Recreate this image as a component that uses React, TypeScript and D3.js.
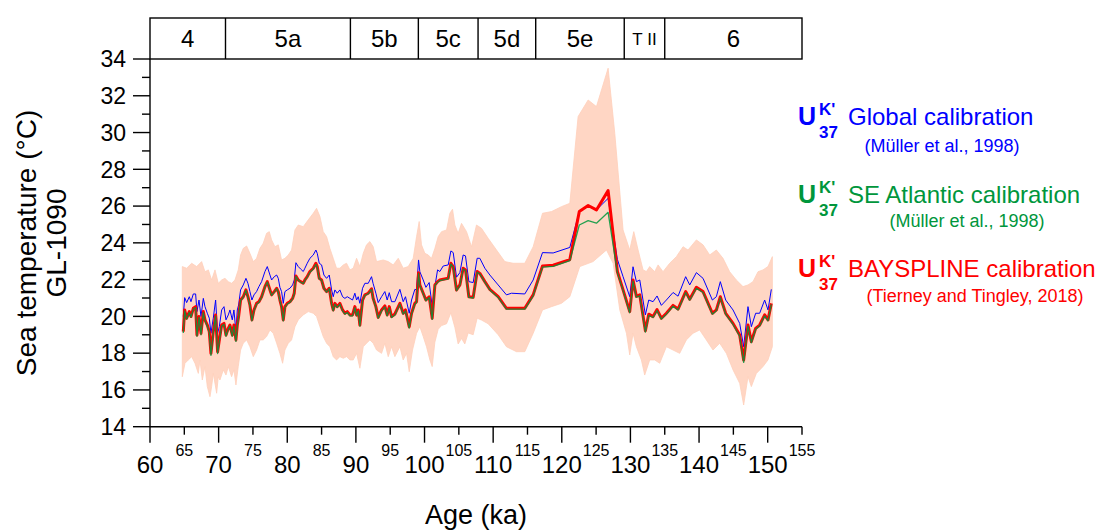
import React from 'react';
import * as d3 from 'd3';

// ages (ka) of the alkenone samples
const ages = [
  64.85, 65.05, 65.34, 65.73, 65.97, 66.31, 66.65, 66.84, 67.14, 67.43,
  67.77, 68.01, 68.35, 68.64, 68.88, 69.22, 69.56, 69.85, 70.10, 70.44,
  70.78, 71.07, 71.41, 71.65, 71.99, 72.23, 72.52, 72.72, 72.91, 73.20,
  73.59, 73.98, 74.27, 74.56, 74.85, 75.15, 75.53, 75.87, 76.26, 76.75,
  77.09, 77.48, 77.72, 78.11, 78.45, 78.69, 78.93, 79.17, 79.42, 79.66,
  80.00, 80.39, 80.78, 81.02, 81.26, 81.60, 81.94, 82.33, 82.57, 82.91,
  83.30, 83.79, 84.17, 84.37, 84.66, 85.00, 85.34, 85.73, 86.12, 86.46,
  86.70, 86.94, 87.28, 87.67, 88.06, 88.40, 88.74, 89.13, 89.51, 89.85,
  90.10, 90.34, 90.58, 90.97, 91.31, 91.80, 92.28, 92.50, 92.91, 93.25,
  93.74, 94.22, 94.56, 94.86, 95.20, 95.68, 96.41, 96.89, 97.23, 97.77,
  98.11, 98.59, 98.84, 99.13, 99.32, 99.81, 100.20, 100.68, 101.12, 101.51,
  101.90, 102.23, 102.72, 103.45, 103.84, 104.18, 104.66, 105.15, 105.63, 105.97,
  106.46, 107.09, 107.67, 108.06, 108.79, 109.52, 110.73, 111.94, 112.67, 114.61,
  115.83, 117.19, 118.74, 121.17, 122.55, 123.84, 125.05, 126.75, 128.10, 128.93,
  129.90, 130.38, 130.87, 131.36, 132.18, 132.67, 133.30, 133.88, 134.51, 135.24,
  136.21, 136.94, 138.05, 138.64, 139.61, 140.58, 141.94, 142.52, 143.10, 143.88,
  144.95, 145.92, 146.50, 147.13, 147.62, 148.25, 148.83, 149.56, 150.05, 150.53
];

// UK'37 global calibration (blue)
const globalCal = [
  19.99, 21.02, 20.75, 21.07, 20.80, 21.22, 21.22, 20.26, 20.89, 19.99,
  20.98, 20.53, 20.17, 19.90, 19.08, 19.90, 20.89, 19.08, 19.44, 20.35,
  20.53, 19.81, 20.08, 20.35, 19.81, 20.35, 19.17, 20.35, 20.62, 21.44,
  21.71, 22.07, 21.80, 21.35, 20.89, 21.17, 21.35, 21.62, 21.89, 22.44,
  22.71, 22.25, 21.98, 22.16, 22.25, 22.07, 21.58, 21.35, 20.71, 21.35,
  21.44, 21.53, 21.71, 21.98, 22.92, 22.71, 22.58, 22.44, 22.62, 22.89,
  23.16, 23.34, 23.61, 23.43, 22.89, 22.80, 22.25, 22.07, 22.25, 21.44,
  21.07, 21.44, 21.26, 21.44, 21.07, 20.98, 21.07, 20.98, 20.89, 21.26,
  20.89, 21.07, 20.71, 21.53, 21.80, 21.80, 22.16, 21.80, 21.26, 20.75,
  21.07, 21.35, 20.89, 21.29, 20.80, 20.80, 21.47, 20.80, 21.07, 20.17,
  20.89, 21.47, 21.44, 23.07, 22.43, 21.98, 21.58, 21.84, 20.53, 21.62,
  22.53, 22.44, 22.74, 22.80, 23.56, 23.47, 22.13, 22.38, 23.34, 23.29,
  21.89, 21.84, 23.16, 23.16, 22.62, 22.25, 21.71, 21.17, 21.26, 21.22,
  21.98, 23.47, 23.45, 23.75, 25.70, 26.00, 25.79, 26.42, 23.10, 22.16,
  21.07, 22.70, 21.89, 21.98, 20.08, 20.89, 20.80, 21.11, 20.60, 20.89,
  21.30, 21.10, 22.16, 21.71, 22.38, 22.07, 20.89, 21.07, 21.89, 20.89,
  20.35, 19.62, 18.35, 20.53, 19.44, 20.17, 20.17, 20.89, 20.35, 21.47
];

// UK'37 SE Atlantic calibration (green)
const seAtlanticCal = [
  19.10, 20.30, 19.85, 20.22, 19.95, 20.40, 20.48, 18.92, 19.95, 19.00,
  20.22, 19.76, 19.47, 19.10, 17.88, 19.10, 20.03, 17.98, 18.64, 19.47,
  19.57, 18.92, 19.29, 19.47, 18.92, 19.47, 18.64, 19.47, 19.95, 20.86,
  21.04, 21.42, 21.04, 20.58, 19.76, 20.30, 20.67, 20.76, 21.04, 21.60,
  21.87, 21.42, 21.14, 21.32, 21.51, 21.32, 20.86, 20.48, 19.76, 20.48,
  20.67, 20.76, 20.95, 21.23, 22.18, 21.96, 21.87, 21.78, 21.96, 22.14,
  22.40, 22.58, 22.83, 22.66, 22.04, 21.96, 21.51, 21.32, 21.51, 20.67,
  20.30, 20.67, 20.48, 20.67, 20.30, 20.12, 20.21, 20.03, 20.03, 20.48,
  20.03, 20.30, 19.47, 20.86, 21.14, 21.23, 21.47, 20.96, 20.48, 19.90,
  20.30, 20.52, 20.03, 20.48, 19.94, 20.08, 20.67, 20.12, 20.30, 19.36,
  20.12, 20.67, 20.76, 22.34, 21.68, 21.23, 20.85, 21.03, 19.84, 21.68,
  21.86, 21.95, 21.99, 22.04, 22.85, 22.68, 21.40, 21.68, 22.58, 22.50,
  21.03, 21.00, 22.40, 22.31, 21.86, 21.44, 21.03, 20.40, 20.40, 20.40,
  21.12, 22.68, 22.72, 23.03, 24.97, 25.21, 25.07, 25.66, 22.38, 21.40,
  20.20, 21.92, 21.04, 21.12, 19.14, 20.06, 19.94, 20.32, 19.85, 20.12,
  20.55, 20.35, 21.30, 20.88, 21.53, 21.30, 20.12, 20.30, 21.02, 20.12,
  19.56, 18.92, 17.50, 19.47, 18.56, 19.30, 19.48, 20.03, 19.76, 20.66
];

// UK'37 BAYSPLINE calibration (red)
const baysplineCal = [
  19.17, 20.35, 19.90, 20.26, 19.99, 20.44, 20.53, 18.99, 19.99, 19.08,
  20.26, 19.81, 19.53, 19.17, 17.99, 19.17, 20.08, 18.08, 18.72, 19.53,
  19.62, 18.99, 19.35, 19.53, 18.99, 19.53, 18.72, 19.53, 19.99, 20.89,
  21.07, 21.44, 21.07, 20.62, 19.81, 20.35, 20.71, 20.80, 21.07, 21.62,
  21.89, 21.44, 21.17, 21.35, 21.53, 21.35, 20.89, 20.53, 19.81, 20.53,
  20.71, 20.80, 20.98, 21.26, 22.20, 21.98, 21.89, 21.80, 21.98, 22.16,
  22.44, 22.62, 22.89, 22.71, 22.07, 21.98, 21.53, 21.35, 21.53, 20.71,
  20.35, 20.71, 20.53, 20.71, 20.35, 20.17, 20.26, 20.08, 20.08, 20.53,
  20.08, 20.35, 19.53, 20.89, 21.17, 21.26, 21.50, 21.00, 20.53, 19.95,
  20.35, 20.57, 20.08, 20.53, 19.99, 20.13, 20.71, 20.17, 20.35, 19.44,
  20.17, 20.71, 20.80, 22.38, 21.71, 21.26, 20.89, 21.07, 19.90, 21.71,
  21.89, 21.98, 22.02, 22.07, 22.89, 22.71, 21.44, 21.71, 22.62, 22.53,
  21.07, 21.04, 22.44, 22.34, 21.89, 21.47, 21.07, 20.44, 20.44, 20.44,
  21.17, 22.74, 22.78, 23.09, 25.70, 26.03, 25.79, 26.84, 22.44, 21.44,
  20.26, 21.98, 21.09, 21.17, 19.22, 20.12, 19.99, 20.37, 19.90, 20.17,
  20.60, 20.40, 21.35, 20.93, 21.58, 21.35, 20.17, 20.35, 21.07, 20.17,
  19.62, 18.99, 17.63, 19.53, 18.63, 19.35, 19.53, 20.08, 19.81, 20.71
];

// BAYSPLINE uncertainty envelope, upper edge
const bandUpperAge = [
  64.71, 65.34, 66.07, 66.80, 67.52, 68.01, 68.50, 68.98, 69.47, 69.95,
  70.44, 70.92, 71.41, 71.89, 72.38, 72.86, 73.20, 73.59, 74.08, 74.56,
  75.05, 75.53, 76.02, 76.50, 76.99, 77.38, 77.72, 78.20, 78.69, 79.17,
  79.66, 80.15, 80.63, 81.12, 81.60, 82.33, 83.06, 83.79, 84.27, 84.76,
  85.24, 85.73, 86.21, 86.70, 87.18, 87.67, 88.16, 88.64, 89.13, 89.61,
  90.10, 90.58, 91.07, 91.55, 92.04, 92.52, 93.01, 93.98, 94.71, 95.44,
  96.17, 96.89, 97.62, 98.35, 98.84, 99.22, 99.56, 100.05, 100.54, 101.02,
  101.51, 101.99, 102.48, 103.21, 103.69, 104.08, 104.42, 104.90, 105.39, 106.12,
  106.85, 107.57, 108.30, 109.27, 110.49, 111.70, 112.91, 114.61, 115.83, 117.19,
  118.50, 119.95, 121.17, 122.38, 123.84, 125.05, 126.75, 127.72, 128.93, 129.90,
  130.49, 131.12, 131.84, 132.33, 132.81, 133.54, 134.03, 134.75, 135.72, 136.70,
  137.67, 138.39, 139.61, 140.58, 141.55, 142.52, 143.49, 144.46, 145.43, 146.40,
  147.13, 147.86, 148.59, 149.32, 150.04, 150.68
];
const bandUpper = [
  22.71, 22.62, 22.89, 22.71, 22.98, 22.43, 22.53, 21.98, 22.53, 21.80,
  21.98, 22.07, 21.89, 21.80, 21.98, 22.53, 23.34, 23.70, 23.83, 23.43,
  22.98, 23.16, 23.70, 23.98, 24.52, 24.61, 24.16, 23.79, 23.89, 23.07,
  23.16, 23.34, 23.61, 24.70, 24.97, 24.88, 25.25, 25.61, 25.88, 25.43,
  24.61, 24.34, 23.70, 23.16, 22.62, 22.62, 22.80, 22.89, 22.53, 22.62,
  23.16, 22.71, 23.43, 23.89, 24.07, 23.79, 22.98, 23.07, 22.98, 22.80,
  23.16, 22.62, 22.71, 23.16, 24.34, 25.16, 23.89, 23.43, 23.34, 23.16,
  23.70, 24.34, 24.61, 24.70, 25.61, 25.83, 24.97, 24.52, 25.06, 24.61,
  23.79, 24.97, 24.79, 24.25, 23.61, 22.98, 22.89, 22.89, 23.79, 25.61,
  25.70, 25.97, 26.15, 30.87, 31.77, 31.41, 33.50, 29.96, 24.70, 23.61,
  24.61, 23.61, 22.53, 22.44, 22.71, 22.43, 22.80, 22.43, 22.89, 23.25,
  23.79, 23.61, 24.16, 23.89, 23.34, 23.61, 23.16, 22.43, 21.98, 21.62,
  21.71, 21.89, 22.43, 22.53, 22.71, 23.25
];

// BAYSPLINE uncertainty envelope, lower edge
const bandLowerAge = [
  64.71, 65.10, 65.58, 66.07, 66.55, 67.04, 67.28, 67.62, 68.01, 68.35,
  68.74, 68.98, 69.22, 69.71, 69.95, 70.19, 70.68, 71.07, 71.41, 71.89,
  72.23, 72.52, 72.86, 73.20, 73.59, 74.08, 74.56, 75.05, 75.53, 76.02,
  76.50, 76.99, 77.48, 77.96, 78.45, 78.93, 79.32, 79.66, 80.15, 80.63,
  81.12, 81.60, 82.33, 83.06, 83.79, 84.27, 84.76, 85.24, 85.73, 86.21,
  86.70, 87.18, 87.67, 88.16, 88.64, 89.13, 89.61, 90.10, 90.58, 91.07,
  91.55, 92.04, 92.52, 93.01, 93.74, 94.22, 94.71, 95.20, 95.68, 96.41,
  96.89, 97.38, 97.77, 98.25, 98.84, 99.32, 99.81, 100.29, 100.78, 101.12,
  101.51, 101.99, 102.48, 103.21, 103.84, 104.42, 104.90, 105.39, 105.87, 106.36,
  107.09, 107.67, 108.30, 109.27, 110.73, 111.94, 113.40, 114.61, 115.83, 117.19,
  118.50, 119.95, 121.17, 122.62, 124.56, 126.51, 127.48, 128.45, 129.42, 129.90,
  130.38, 130.87, 131.60, 132.08, 132.81, 133.54, 134.27, 135.24, 136.21, 137.18,
  138.15, 139.12, 140.09, 141.06, 142.03, 143.01, 143.98, 144.95, 145.92, 146.50,
  147.13, 147.62, 148.35, 149.32, 150.04, 150.68
];
const bandLower = [
  16.72, 17.45, 17.63, 17.81, 17.45, 16.90, 17.63, 16.54, 17.27, 16.18,
  15.63, 16.18, 16.90, 15.82, 16.72, 16.54, 17.09, 16.81, 17.27, 16.72,
  17.09, 16.27, 17.27, 18.17, 18.54, 18.72, 18.35, 17.81, 18.17, 18.72,
  18.72, 18.90, 19.26, 19.08, 18.54, 17.99, 17.45, 18.17, 18.54, 18.72,
  19.44, 19.81, 20.08, 20.26, 20.17, 19.99, 19.44, 18.90, 18.54, 18.35,
  17.81, 17.63, 17.81, 17.72, 17.81, 17.63, 17.63, 17.99, 17.18, 18.35,
  18.54, 18.72, 18.54, 18.17, 17.99, 18.54, 17.81, 18.35, 17.81, 18.35,
  17.63, 17.99, 16.99, 18.17, 19.08, 19.44, 18.90, 18.35, 17.63, 17.27,
  18.60, 19.30, 19.50, 19.60, 20.20, 19.40, 18.50, 18.80, 18.50, 19.10,
  19.00, 19.90, 19.80, 19.60, 19.00, 18.35, 18.08, 18.08, 19.08, 20.35,
  20.53, 20.71, 21.07, 22.71, 22.98, 23.61, 22.89, 20.35, 19.08, 17.90,
  19.08, 18.35, 17.63, 16.81, 17.63, 17.63, 17.45, 18.35, 18.17, 17.99,
  18.72, 19.08, 19.26, 18.72, 18.17, 18.54, 17.99, 17.09, 16.36, 15.18,
  16.72, 16.18, 16.90, 17.27, 17.63, 18.35
];

// marine isotope stages shown in the top strip
const stageBounds = [60, 71, 89.2, 99.1, 107.8, 116.2, 129.1, 135, 155];
const stageLabels = ['4', '5a', '5b', '5c', '5d', '5e', 'T II', '6'];

const xMajorTicks = [60, 70, 80, 90, 100, 110, 120, 130, 140, 150];
const xMinorTicks = [65, 75, 85, 95, 105, 115, 125, 135, 145, 155];
const yMajorTicks = [14, 16, 18, 20, 22, 24, 26, 28, 30, 32, 34];
const yMinorTicks = [15, 17, 19, 21, 23, 25, 27, 29, 31, 33];

const FONT = '"Liberation Sans", Arial, Helvetica, sans-serif';

export default function App() {
  const width = 1111, height = 531;
  const x = d3.scaleLinear().domain([60, 155]).range([150, 802]);
  const y = d3.scaleLinear().domain([14, 34]).range([426.7, 59]);
  const boxTop = 18;

  const line = d3.line<[number, number]>()
    .x(d => x(d[0]))
    .y(d => y(d[1]));

  const series = (vals: number[]) =>
    ages.map((a, i) => [a, vals[i]] as [number, number]).filter(d => d[1] != null);

  const upper = bandUpperAge.map((a, i) => [a, bandUpper[i]] as [number, number]);
  const lower = bandLowerAge.map((a, i) => [a, bandLower[i]] as [number, number]).reverse();
  const bandPath = line(upper.concat(lower)) + 'Z';

  const legend = [
    { color: '#0000ff', main: 'Global calibration', sub: '(Müller et al., 1998)', base: 125, subBase: 152, subX: 942 },
    { color: '#00963c', main: 'SE Atlantic calibration', sub: '(Müller et al., 1998)', base: 203, subBase: 227, subX: 967 },
    { color: '#ff0000', main: 'BAYSPLINE calibration', sub: '(Tierney and Tingley, 2018)', base: 277, subBase: 302, subX: 975 }
  ];

  return (
    <svg width={width} height={height}
      style={{ position: 'absolute', left: 0, top: 0, background: '#fff' }}
      fontFamily={FONT}>
      {/* uncertainty band */}
      <path d={bandPath} fill="#ffd6c4" stroke="#ffcfba" strokeWidth={0.8} />

      {/* series */}
      <path d={line(series(globalCal)) || ''} fill="none" stroke="#0000ff" strokeWidth={1} />
      <path d={line(series(baysplineCal)) || ''} fill="none" stroke="#ff0000" strokeWidth={3} strokeLinejoin="round" />
      <path d={line(series(seAtlanticCal)) || ''} fill="none" stroke="#00963c" strokeWidth={1.3} strokeOpacity={0.85} strokeLinejoin="round" />

      {/* stage strip */}
      <g stroke="#000" strokeWidth={1.4} fill="none">
        <rect x={x(60)} y={boxTop} width={x(155) - x(60)} height={y(34) - boxTop} />
        {stageBounds.slice(1, -1).map(b => (
          <line key={b} x1={x(b)} x2={x(b)} y1={boxTop} y2={y(34)} />
        ))}
      </g>
      {stageLabels.map((s, i) => (
        <text key={s} x={(x(stageBounds[i]) + x(stageBounds[i + 1])) / 2}
          y={s === 'T II' ? 45 : 47} textAnchor="middle"
          fontSize={s === 'T II' ? 17 : 24} fill="#000">{s}</text>
      ))}

      {/* y axis */}
      <g stroke="#000" strokeWidth={1.4}>
        <line x1={x(60)} x2={x(60)} y1={y(34)} y2={y(14)} />
        {yMajorTicks.map(t => <line key={'ym' + t} x1={x(60) - 17} x2={x(60)} y1={y(t)} y2={y(t)} />)}
        {yMinorTicks.map(t => <line key={'yn' + t} x1={x(60) - 8} x2={x(60)} y1={y(t)} y2={y(t)} />)}
      </g>
      {yMajorTicks.map(t => (
        <text key={'yl' + t} x={126} y={y(t)} dy="0.36em" textAnchor="end" fontSize={23} fill="#000">{t}</text>
      ))}
      <text transform={`translate(36,${243}) rotate(-90)`} textAnchor="middle" fontSize={28} fill="#000">Sea temperature (°C)</text>
      <text transform={`translate(66,${243}) rotate(-90)`} textAnchor="middle" fontSize={28} fill="#000">GL-1090</text>

      {/* x axis */}
      <g stroke="#000" strokeWidth={1.4}>
        <line x1={x(60)} x2={x(155)} y1={y(14)} y2={y(14)} />
        {xMajorTicks.map(t => <line key={'xm' + t} x1={x(t)} x2={x(t)} y1={y(14)} y2={y(14) + 16} />)}
        {xMinorTicks.map(t => <line key={'xn' + t} x1={x(t)} x2={x(t)} y1={y(14)} y2={y(14) + 8} />)}
      </g>
      {xMajorTicks.map(t => (
        <text key={'xl' + t} x={x(t)} y={473} textAnchor="middle" fontSize={24} fill="#000">{t}</text>
      ))}
      {xMinorTicks.map(t => (
        <text key={'xs' + t} x={x(t)} y={456} textAnchor="middle" fontSize={16} fill="#000">{t}</text>
      ))}
      <text x={(x(60) + x(155)) / 2} y={524} textAnchor="middle" fontSize={27} fill="#000">Age (ka)</text>

      {/* legend */}
      {legend.map(l => (
        <g key={l.main} fill={l.color}>
          <text x={798} y={l.base} fontSize={25} fontWeight="bold">U</text>
          <text x={819} y={l.base - 10} fontSize={17} fontWeight="bold">K'</text>
          <text x={819} y={l.base + 13} fontSize={17} fontWeight="bold">37</text>
          <text x={848} y={l.base} fontSize={24}>{l.main}</text>
          <text x={l.subX} y={l.subBase} fontSize={18} textAnchor="middle">{l.sub}</text>
        </g>
      ))}
    </svg>
  );
}
